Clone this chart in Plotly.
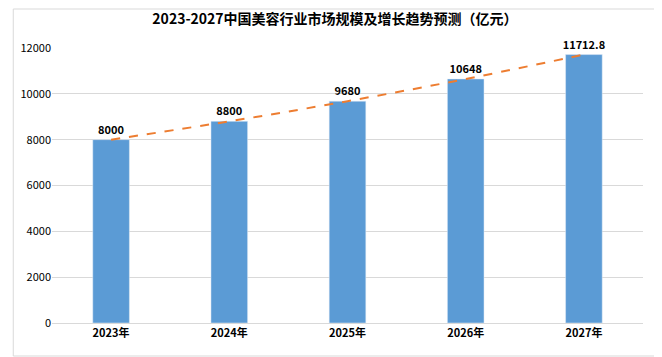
import plotly.graph_objects as go

years = ["2023年", "2024年", "2025年", "2026年", "2027年"]
values = [8000, 8800, 9680, 10648, 11712.8]
labels = ["8000", "8800", "9680", "10648", "11712.8"]
y_ticks = [0, 2000, 4000, 6000, 8000, 10000, 12000]
y_tick_text = ["0", "2000", "4000", "6000", "8000", "10000", "12000"]

font_family = "Noto Sans CJK SC, Microsoft YaHei, sans-serif"

W, H = 654, 349
L, R, T, B = 40, 19, 40, 34
pw, ph = W - L - R, H - T - B

fig = go.Figure()
fig.add_trace(go.Bar(
    x=years, y=values, marker_color="#5B9BD5", width=0.31,
    text=["<b>" + s + "</b>" for s in labels], textposition="outside", cliponaxis=False,
    constraintext="none",
    textfont=dict(size=11, color="#000000", family=font_family),
    showlegend=False,
))
fig.add_trace(go.Scatter(
    x=years, y=values, mode="lines", line=dict(color="#ED7D31", width=2, dash="dash", shape="spline"),
    showlegend=False, hoverinfo="skip",
))

fig.update_layout(
    width=W, height=H,
    margin=dict(l=L, r=R, t=T, b=B),
    paper_bgcolor="white", plot_bgcolor="white",
    title=dict(text="<b>2023-2027中国美容行业市场规模及增长趋势预测（亿元）</b>", x=0.5, xanchor="center",
               y=1 - 11 / H, yanchor="middle", font=dict(size=14, color="#000000", family=font_family)),
    xaxis=dict(showgrid=False, showline=True, linecolor="#D9D9D9", linewidth=1, ticks="",
               tickfont=dict(size=11, color="#000000", family=font_family),
               tickprefix="<b>", ticksuffix="</b>"),
    yaxis=dict(range=[0, 12000], tickvals=y_ticks, ticktext=y_tick_text, showgrid=True,
               gridcolor="#D9D9D9", gridwidth=1,
               zeroline=False, showline=False, ticks="",
               tickfont=dict(size=11, color="#000000", family=font_family)),
    shapes=[dict(type="rect", xref="paper", yref="paper",
                 x0=-(L - 1) / pw, x1=1 + (R - 1) / pw, y0=-(B - 1) / ph, y1=1 + (T - 1) / ph,
                 line=dict(color="#D9D9D9", width=1))],
)

fig.write_html("out.html")
